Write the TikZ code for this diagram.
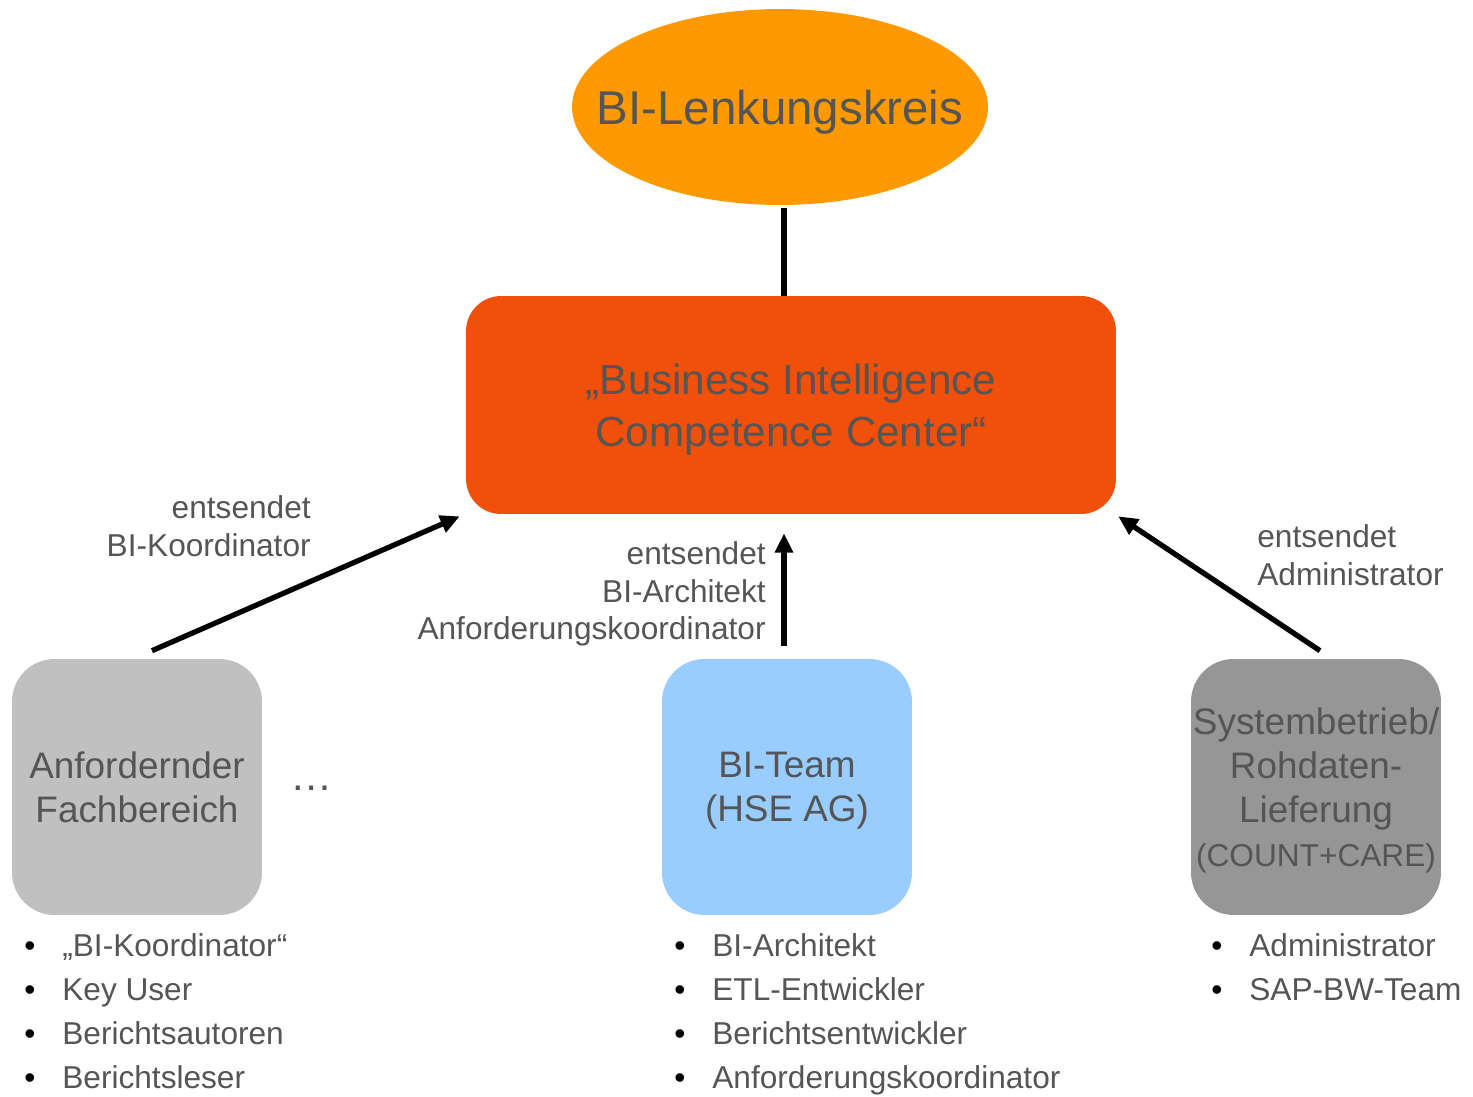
\documentclass[tikz,border=0pt]{standalone}
\usepackage{fontspec}
\setmainfont{Liberation Sans}
\usetikzlibrary{shapes.geometric,arrows.meta}
\definecolor{txtgray}{HTML}{555555}
\definecolor{lkorange}{HTML}{FF9900}
\definecolor{ccorange}{HTML}{F0500A}
\definecolor{fbgray}{HTML}{C0C0C0}
\definecolor{btblue}{HTML}{99CCFF}
\definecolor{sbgray}{HTML}{969696}
\newcommand{\itembullet}{\makebox[0.76cm][l]{\textcolor{black}{•}}}
\begin{document}
\begin{tikzpicture}[x=0.02cm,y=-0.02cm,every node/.style={text=txtgray,inner sep=0pt},
  unitbox/.style={rounded corners=0.85cm,minimum width=5cm,minimum height=5.12cm,align=center,text depth=0pt,font=\fontsize{21}{25}\selectfont},
  sendtext/.style={font=\fontsize{18}{21.5}\selectfont},
  listitem/.style={anchor=base west,font=\fontsize{18}{21.5}\selectfont},
  conn/.style={line width=3pt},
  sendarrow/.style={line width=3pt,-{Triangle[length=11pt,width=10pt]}}]
\useasboundingbox (0,0) rectangle (1473,1096);
\node[ellipse,fill=lkorange,inner xsep=-21pt,minimum width=8.32cm,minimum height=3.92cm,text depth=0pt,font=\fontsize{27}{32}\selectfont] (lk) at (780,107) {BI-Lenkungskreis};
\node[rounded corners=0.7cm,fill=ccorange,minimum width=13cm,minimum height=4.36cm,align=center,text depth=0pt,font=\fontsize{24}{29.5}\selectfont] (bicc) at (791,405) {„Business Intelligence\\Competence Center“};
\node[unitbox,fill=fbgray] (fb) at (137,787) {Anfordernder\\Fachbereich};
\node[unitbox,fill=btblue] (bt) at (787,787) {BI-Team\\(HSE AG)};
\node[unitbox,fill=sbgray] (sb) at (1316,787) {Systembetrieb/\\Rohdaten-\\Lieferung\\{\fontsize{18}{22}\selectfont(COUNT+CARE)}};
\node[anchor=base,font=\fontsize{24}{28}\selectfont] (more) at (312,790) {…};
% connectors
\draw[conn] ([shift={(4,3)}]lk.south) -- ([shift={(-7,0)}]bicc.north);
\draw[sendarrow] ([shift={(15,-8)}]fb.north) -- ([shift={(-6,2)}]bicc.south west);
\draw[sendarrow] ([shift={(-3,-13)}]bt.north) -- ([shift={(-7,19)}]bicc.south);
\draw[sendarrow] ([shift={(4,-8)}]sb.north) -- ([shift={(2,2)}]bicc.south east);
% labels
\node[sendtext,anchor=east,align=right] (sendfb) at (311,526) {entsendet\\BI-Koordinator};
\node[sendtext,anchor=east,align=right] (sendbt) at (766,594) {entsendet\\BI-Architekt\\Anforderungskoordinator};
\node[sendtext,anchor=west,align=left] (sendsb) at (1257,555) {entsendet\\Administrator};
% lists
\node[listitem] (fb1) at (24,956) {\itembullet„BI-Koordinator“};
\node[listitem] (fb2) at (24,1000) {\itembullet Key User};
\node[listitem] (fb3) at (24,1044) {\itembullet Berichtsautoren};
\node[listitem] (fb4) at (24,1088) {\itembullet Berichtsleser};
\node[listitem] (bt1) at (674,956) {\itembullet BI-Architekt};
\node[listitem] (bt2) at (674,1000) {\itembullet ETL-Entwickler};
\node[listitem] (bt3) at (674,1044) {\itembullet Berichtsentwickler};
\node[listitem] (bt4) at (674,1088) {\itembullet Anforderungskoordinator};
\node[listitem] (sb1) at (1211,956) {\itembullet Administrator};
\node[listitem] (sb2) at (1211,1000) {\itembullet SAP-BW-Team};
\end{tikzpicture}
\end{document}
